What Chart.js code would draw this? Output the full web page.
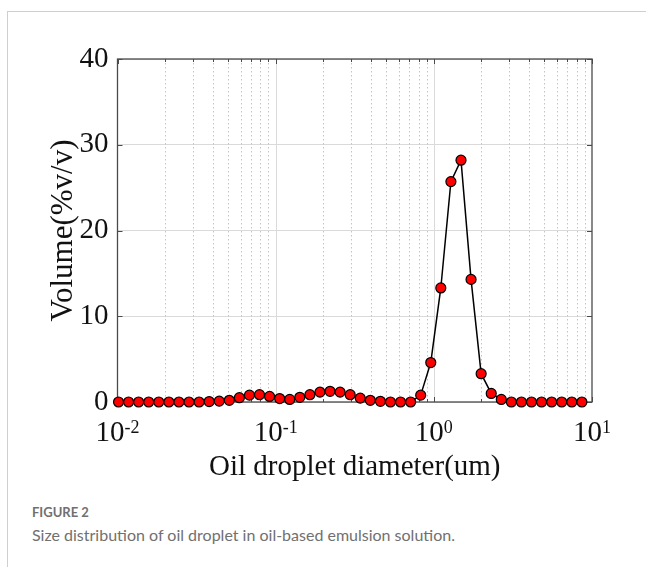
<!DOCTYPE html>
<html>
<head>
<meta charset="utf-8">
<script src="https://cdn.jsdelivr.net/npm/chart.js@4.4.1/dist/chart.umd.min.js"></script>
<style>
  html, body { margin: 0; padding: 0; background: #fff; }
  body { width: 646px; height: 567px; position: relative; overflow: hidden; }
  #frame {
    position: absolute; left: 7px; top: 11px; right: 0; bottom: 0;
    border-left: 1px solid #cfcfcf; border-top: 1px solid #cfcfcf;
  }
  #wrap { position: absolute; left: 0; top: 0; width: 646px; height: 500px; }
  .cap { position: absolute; left: 32px; font-family: Lato, "Open Sans", sans-serif; color: #707070; white-space: nowrap; }
  #figno { top: 506px; font-size: 13px; line-height: 13px; font-weight: 700; }
  #figtxt { top: 527px; font-size: 16px; line-height: 16px; }
</style>
</head>
<body>
<div id="frame"></div>
<div id="wrap"><canvas id="chart" width="646" height="500"></canvas></div>
<div class="cap" id="figno">FIGURE 2</div>
<div class="cap" id="figtxt">Size distribution of oil droplet in oil-based emulsion solution.</div>
<script>
// droplet diameter (um)
const diameters = [
  0.01015, 0.01175, 0.0136, 0.01575, 0.01824, 0.02113, 0.02446, 0.02832,
  0.0328, 0.03798, 0.04397, 0.05091, 0.05896, 0.06828, 0.07904, 0.09154,
  0.106, 0.1227, 0.1421, 0.1646, 0.1906, 0.2207, 0.2555, 0.2959,
  0.3426, 0.3967, 0.4594, 0.5319, 0.616, 0.7133, 0.8259, 0.9563,
  1.107, 1.282, 1.485, 1.719, 1.991, 2.306, 2.67, 3.092,
  3.58, 4.145, 4.8, 5.558, 6.436, 7.453, 8.63
];

// volume (%v/v)
const volumes = [
  0, 0, 0, 0, 0, 0, 0, 0,
  0, 0.05, 0.1, 0.2, 0.5, 0.8, 0.85, 0.65,
  0.4, 0.3, 0.55, 0.85, 1.15, 1.25, 1.15, 0.85,
  0.45, 0.2, 0.08, 0, 0, 0, 0.8, 4.6,
  13.3, 25.7, 28.2, 14.3, 3.3, 1.0, 0.3, 0,
  0, 0, 0, 0, 0, 0, 0
];

const yStep = 10;
const serif = "'Liberation Serif', 'Times New Roman', serif";

const isDecade = (v) => Math.abs(Math.log10(v) - Math.round(Math.log10(v))) < 1e-6;

// box, grid, inner tick marks and 10^n labels in MATLAB style
const matlabAxes = {
  id: "matlabAxes",
  beforeDatasetsDraw(chart) {
    const { ctx, chartArea: a, scales } = chart;
    const x = scales.x;
    const y = scales.y;
    ctx.save();
    ctx.lineWidth = 1;
    x.ticks.forEach((t) => {
      const px = Math.round(x.getPixelForValue(t.value)) + 0.5;
      if (px <= a.left + 1 || px >= a.right - 1) return;
      if (isDecade(t.value)) {
        ctx.setLineDash([]);
        ctx.strokeStyle = "#dadada";
      } else {
        ctx.setLineDash([1.5, 2.5]);
        ctx.strokeStyle = "#c4c4c4";
      }
      ctx.beginPath();
      ctx.moveTo(px, a.top);
      ctx.lineTo(px, a.bottom);
      ctx.stroke();
    });
    ctx.setLineDash([]);

    ctx.strokeStyle = "#4a4a4a";
    ctx.lineWidth = 1.3;
    ctx.strokeRect(a.left, a.top, a.right - a.left, a.bottom - a.top);

    ctx.lineWidth = 1;
    x.ticks.forEach((t) => {
      const px = Math.round(x.getPixelForValue(t.value)) + 0.5;
      const len = isDecade(t.value) ? 5 : 3;
      ctx.beginPath();
      ctx.moveTo(px, a.bottom);
      ctx.lineTo(px, a.bottom - len);
      ctx.moveTo(px, a.top);
      ctx.lineTo(px, a.top + len);
      ctx.stroke();
    });
    y.ticks.forEach((t) => {
      const py = Math.round(y.getPixelForValue(t.value)) + 0.5;
      ctx.beginPath();
      ctx.moveTo(a.left, py);
      ctx.lineTo(a.left + 5, py);
      ctx.moveTo(a.right, py);
      ctx.lineTo(a.right - 5, py);
      ctx.stroke();
    });
    ctx.restore();
  },
  afterDraw(chart) {
    const { ctx, chartArea: a, scales } = chart;
    const x = scales.x;
    ctx.save();
    ctx.fillStyle = "#111";
    ctx.textBaseline = "alphabetic";
    ctx.textAlign = "left";
    x.ticks.forEach((t) => {
      if (!isDecade(t.value)) return;
      const exp = String(Math.round(Math.log10(t.value)));
      ctx.font = "29px " + serif;
      const wBase = ctx.measureText("10").width;
      ctx.font = "18px " + serif;
      const wExp = ctx.measureText(exp).width;
      const px = x.getPixelForValue(t.value);
      const left = px - (wBase + wExp) / 2;
      const base = a.bottom + 39;
      ctx.font = "29px " + serif;
      ctx.fillText("10", left, base);
      ctx.font = "18px " + serif;
      ctx.fillText(exp, left + wBase, base - 8);
    });
    ctx.restore();
  }
};

new Chart(document.getElementById("chart"), {
  type: "line",
  data: {
    datasets: [
      {
        data: diameters.map((d, i) => ({ x: d, y: volumes[i] })),
        borderColor: "#000",
        borderWidth: 1.5,
        pointBackgroundColor: "#ff0000",
        pointBorderColor: "#000",
        pointBorderWidth: 1.2,
        pointRadius: 5,
        tension: 0,
        clip: false
      }
    ]
  },
  options: {
    responsive: false,
    animation: false,
    layout: { padding: { left: 48.5, right: 54, top: 59, bottom: 15.6 } },
    plugins: {
      legend: { display: false },
      tooltip: { enabled: false }
    },
    scales: {
      x: {
        type: "logarithmic",
        min: 0.01,
        max: 10,
        // keep only 1..9 x 10^n ticks
        afterBuildTicks: (axis) => {
          axis.ticks = axis.ticks.filter((t) => {
            const m = t.value / Math.pow(10, Math.floor(Math.log10(t.value) + 1e-9));
            return Math.abs(m - Math.round(m)) < 1e-6;
          });
        },
        afterFit: (axis) => {
          axis.height = 82.4;
        },
        grid: { display: false, drawTicks: false },
        border: { display: false },
        ticks: {
          autoSkip: false,
          maxRotation: 0,
          padding: 8,
          color: "rgba(0,0,0,0)",
          font: { family: serif, size: 29 },
          callback: (v) => (isDecade(v) ? "10" + Math.round(Math.log10(v)) : "")
        },
        title: {
          display: true,
          text: "Oil droplet diameter(um)",
          color: "#111",
          font: { family: serif, size: 29 },
          padding: { top: 4.8, bottom: 0 }
        }
      },
      y: {
        min: 0,
        max: 40,
        afterFit: (axis) => {
          axis.width = 69;
        },
        grid: { color: "#dadada", drawTicks: false },
        border: { display: false },
        ticks: {
          stepSize: yStep,
          padding: 9,
          color: "#111",
          font: { family: serif, size: 29 }
        },
        title: {
          display: true,
          text: "Volume(%v/v)",
          color: "#111",
          font: { family: serif, size: 31, lineHeight: 1 },
          padding: 0
        }
      }
    }
  },
  plugins: [matlabAxes]
});
</script>
</body>
</html>
